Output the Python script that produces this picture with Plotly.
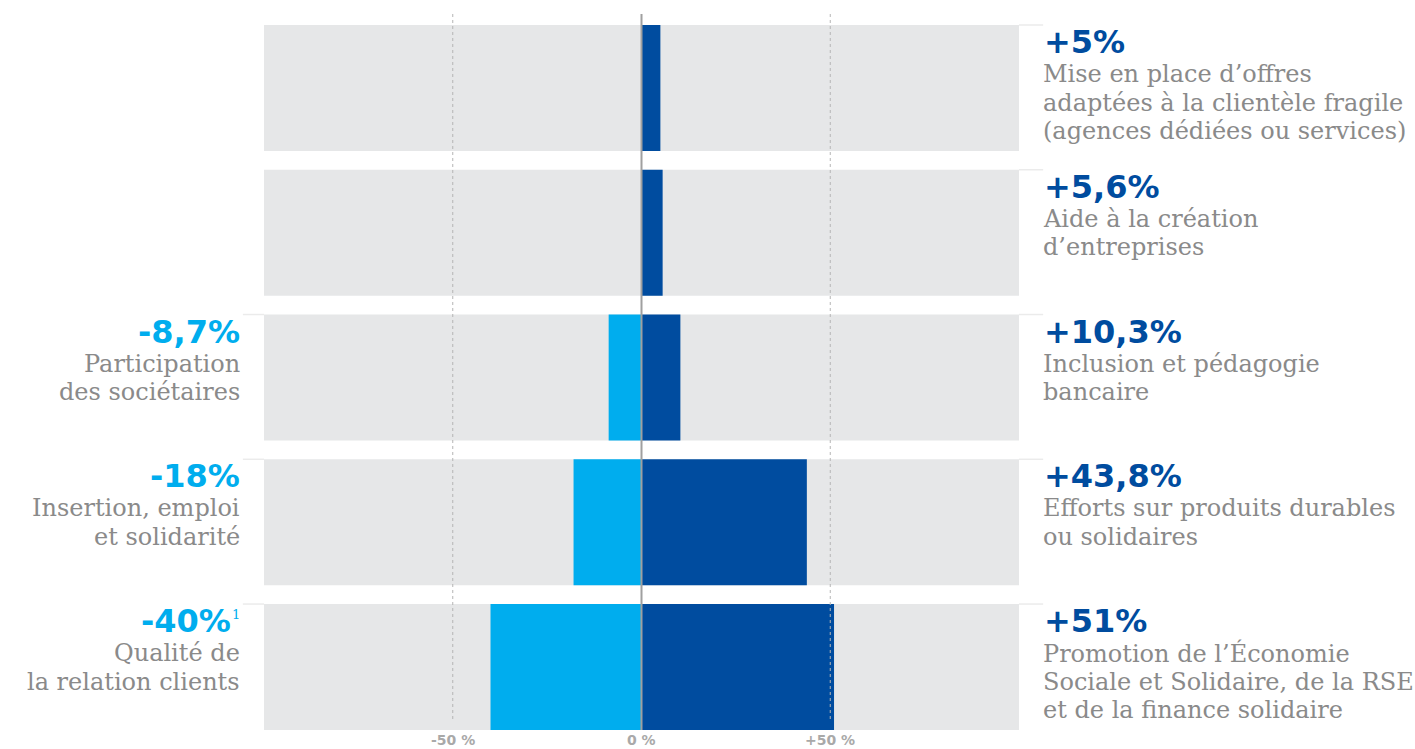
import plotly.graph_objects as go

rows = [0, 1, 2, 3, 4]
pos_values = [5, 5.6, 10.3, 43.8, 51]
neg_values = [0, 0, -8.7, -18, -40]
pos_labels = ["+5%", "+5,6%", "+10,3%", "+43,8%", "+51%"]
pos_desc = [
    ["Mise en place d’offres", "adaptées à la clientèle fragile", "(agences dédiées ou services)"],
    ["Aide à la création", "d’entreprises"],
    ["Inclusion et pédagogie", "bancaire"],
    ["Efforts sur produits durables", "ou solidaires"],
    ["Promotion de l’Économie", "Sociale et Solidaire, de la RSE", "et de la finance solidaire"],
]
neg_labels = [None, None, "-8,7%", "-18%", "-40%"]
neg_notes = [None, None, None, None, "1"]
neg_desc = [None, None, ["Participation", "des sociétaires"], ["Insertion, emploi", "et solidarité"],
            ["Qualité de", "la relation clients"]]
tick_vals = [-50, 0, 50]
tick_text = ["-50 %", "0 %", "+50 %"]

DARK = "#004c9f"
LIGHT = "#00adee"
BAND = "#e6e7e8"
TEXT = "#8a8a8a"
W = 0.87
Y_BOTTOM = 4 + W / 2
Y_TOP = -W / 2 - 0.076

fig = go.Figure()
fig.add_trace(go.Bar(y=rows, x=[200] * 5, base=[-100] * 5, orientation="h", width=W,
                     marker=dict(color=BAND, line_width=0), hoverinfo="skip"))
for v in (-50, 50):
    fig.add_trace(go.Scatter(x=[v, v], y=[Y_TOP, 4.36], mode="lines", hoverinfo="skip",
                             line=dict(color="#b5b5b5", width=1, dash="dot")))
fig.add_trace(go.Bar(y=rows, x=neg_values, orientation="h", width=W,
                     marker=dict(color=LIGHT, line_width=0)))
fig.add_trace(go.Bar(y=rows, x=pos_values, orientation="h", width=W,
                     marker=dict(color=DARK, line_width=0)))

shapes = [dict(type="line", xref="x", yref="y", x0=0, x1=0, y0=Y_TOP, y1=Y_BOTTOM,
               line=dict(color="#a0a0a0", width=2), layer="above")]
for i in rows:
    top = i - W / 2
    shapes.append(dict(type="line", xref="paper", yref="y", x0=1, x1=1.032, y0=top, y1=top,
                       line=dict(color="#ebebeb", width=1.5)))
    if neg_labels[i]:
        shapes.append(dict(type="line", xref="paper", yref="y", x0=-0.028, x1=0, y0=top, y1=top,
                           line=dict(color="#ebebeb", width=1.5)))

annotations = []
VAL_FONT = dict(family="DejaVu Sans, sans-serif", size=32)
DESC_FONT = dict(family="DejaVu Serif, serif", size=24, color=TEXT)
LINE_OFFS = [49, 77.5, 106]
for i in rows:
    top = i - W / 2
    annotations.append(dict(xref="paper", yref="y", x=1, y=top, xanchor="left", yanchor="middle",
                            xshift=23, yshift=-17, text="<b>%s</b>" % pos_labels[i], showarrow=False,
                            font=dict(VAL_FONT, color=DARK)))
    for k, line in enumerate(pos_desc[i]):
        annotations.append(dict(xref="paper", yref="y", x=1, y=top, xanchor="left",
                                yanchor="middle", xshift=22, yshift=-LINE_OFFS[k], text=line,
                                showarrow=False, font=DESC_FONT))
    if neg_labels[i]:
        shift = -31 if neg_notes[i] else -22
        annotations.append(dict(xref="paper", yref="y", x=0, y=top, xanchor="right",
                                yanchor="middle", xshift=shift, yshift=-17,
                                text="<b>%s</b>" % neg_labels[i], showarrow=False,
                                font=dict(VAL_FONT, color=LIGHT)))
        if neg_notes[i]:
            annotations.append(dict(xref="paper", yref="y", x=0, y=top, xanchor="right",
                                    yanchor="middle", xshift=-22, yshift=-10, text=neg_notes[i],
                                    showarrow=False,
                                    font=dict(family="DejaVu Serif, serif", size=13, color=LIGHT)))
        for k, line in enumerate(neg_desc[i]):
            annotations.append(dict(xref="paper", yref="y", x=0, y=top, xanchor="right",
                                    yanchor="middle", xshift=-22, yshift=-LINE_OFFS[k], text=line,
                                    showarrow=False, font=DESC_FONT))
for v, t in zip(tick_vals, tick_text):
    annotations.append(dict(xref="x", yref="y", x=v, y=Y_BOTTOM, yanchor="middle", yshift=-10,
                            text="<b>%s</b>" % t, showarrow=False,
                            font=dict(family="DejaVu Sans, sans-serif", size=14, color="#a9a9a9")))

fig.update_layout(
    width=1415, height=749,
    margin=dict(l=264, r=396, t=14, b=19),
    barmode="overlay",
    showlegend=False,
    plot_bgcolor="white", paper_bgcolor="white",
    xaxis=dict(range=[-100, 100], showgrid=False, zeroline=False, showticklabels=False,
               fixedrange=True),
    yaxis=dict(range=[Y_BOTTOM, Y_TOP], showgrid=False, zeroline=False,
               showticklabels=False, fixedrange=True),
    shapes=shapes,
    annotations=annotations,
)

fig.write_html("out.html")
